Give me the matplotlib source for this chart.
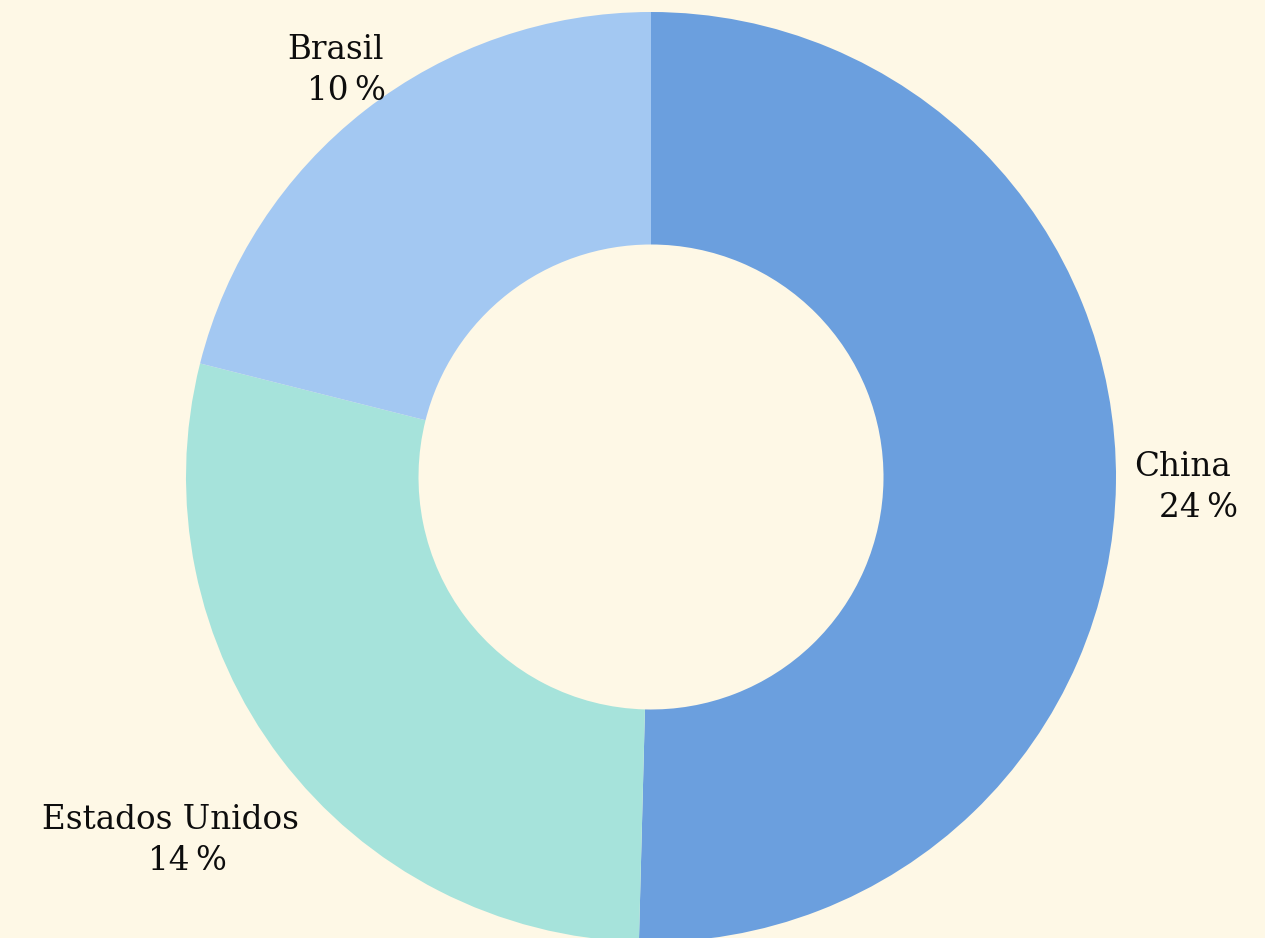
import matplotlib.pyplot as plt

paises = ['China', 'Estados Unidos', 'Brasil']
valores = [24.4, 13.8, 10.2]
colores = ['#6b9fde', '#a6e3db', '#a3c8f2']
fondo = '#fef8e6'

fig = plt.figure(figsize=(12.65, 9.38), dpi=100, facecolor=fondo)
ax = fig.add_axes([0, 0, 1, 1])
ax.set_facecolor(fondo)

# centro y radio en pixeles
cx, cy, r = 651, 938 - 477, 465
ax.pie(valores, colors=colores, startangle=90, counterclock=False,
       center=(cx, cy), radius=r, wedgeprops=dict(width=r * 0.5, linewidth=0),
       frame=True)
ax.set_xlim(0, 1265)
ax.set_ylim(0, 938)
ax.axis('off')

fuente = dict(family=['DejaVu Serif'], fontsize=23.5, color='#0d0d0d')
etiquetas = [f'{round(v)}\u2009%' for v in valores]

# posiciones de cada etiqueta (x de linea 1, x de linea 2, y, alineacion)
pos = {
    'China': (1231, 1238, 938 - 467, 'right'),
    'Estados Unidos': (170, 187, 938 - 820, 'center'),
    'Brasil': (384, 386, 938 - 50, 'right'),
}
for p, et in zip(paises, etiquetas):
    x1, x2, y, ha = pos[p]
    ax.text(x1, y, p, ha=ha, va='center', **fuente)
    ax.text(x2, y - 41, et, ha=ha, va='center', **fuente)

plt.savefig('out.png', dpi=100, facecolor=fondo)
